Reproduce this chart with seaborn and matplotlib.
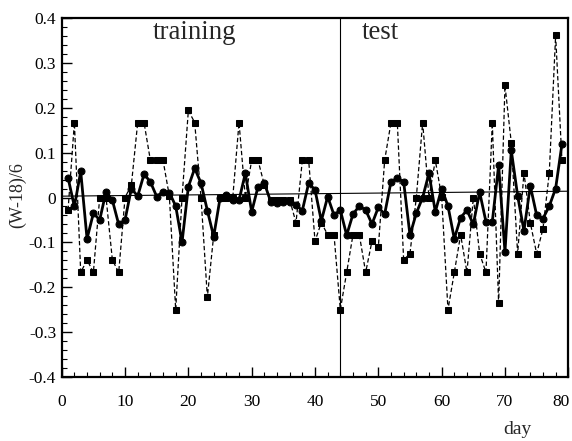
import numpy as np
import pandas as pd
import matplotlib
matplotlib.use("Agg")
import matplotlib.pyplot as plt
import matplotlib.transforms as mtransforms
import seaborn as sns
from matplotlib.ticker import MultipleLocator, FuncFormatter

# day index of each sample
days = list(range(1, 80))

# solid line with circles
predicted = [0.044, -0.020, 0.058, -0.092, -0.035, -0.050, 0.013, -0.006, -0.060, -0.050,
             0.020, 0.003, 0.052, 0.035, 0.002, 0.013, 0.011, -0.019, -0.100, 0.024,
             0.065, 0.032, -0.029, -0.087, -0.002, 0.006, -0.006, -0.006, 0.054, -0.032,
             0.024, 0.032, -0.009, -0.012, -0.009, -0.009, -0.017, -0.029, 0.032, 0.017,
             -0.052, 0.002, -0.039, -0.028, -0.084, -0.037, -0.019, -0.028, -0.059, -0.022,
             -0.037, 0.035, 0.043, 0.035, -0.084, -0.035, 0.000, 0.054, -0.032, 0.020,
             -0.019, -0.092, -0.045, -0.028, -0.060, 0.012, -0.054, -0.054, 0.072, -0.121,
             0.105, 0.004, -0.074, 0.026, -0.039, -0.047, -0.019, 0.020, 0.119]

# dashed line with squares
observed = [-0.028, 0.167, -0.167, -0.139, -0.167, 0.000, 0.000, -0.139, -0.167, 0.000,
            0.028, 0.167, 0.167, 0.083, 0.083, 0.083, 0.003, -0.250, 0.000, 0.194,
            0.167, 0.000, -0.222, -0.084, -0.002, -0.002, -0.002, 0.167, 0.000, 0.083,
            0.083, 0.028, -0.005, -0.005, -0.005, -0.005, -0.056, 0.083, 0.083, -0.097,
            -0.056, -0.083, -0.083, -0.250, -0.167, -0.083, -0.083, -0.167, -0.097, -0.111,
            0.083, 0.167, 0.167, -0.139, -0.125, 0.000, 0.167, 0.000, 0.083, 0.002,
            -0.250, -0.167, -0.083, -0.167, 0.000, -0.125, -0.167, 0.167, -0.236, 0.250,
            0.122, -0.125, 0.055, -0.056, -0.125, -0.070, 0.055, 0.361, 0.083]

trend_days = [0, 80]
trend_vals = [0.003, 0.014]
split_day = 44

df = pd.DataFrame({"day": days, "predicted": predicted, "observed": observed})

sns.set_style("ticks")
plt.rcParams["font.family"] = ["Liberation Serif", "DejaVu Serif"]
plt.rcParams["axes.unicode_minus"] = False

fig = plt.figure(figsize=(5.72, 4.41), dpi=100)
ax = fig.add_axes([0.1079, 0.1451, 0.8856, 0.8141])

ax.plot(trend_days, trend_vals, color="black", lw=0.8, zorder=1)
ax.axvline(split_day, color="black", lw=0.8, zorder=1)

sns.lineplot(data=df, x="day", y="observed", ax=ax, color="black", lw=0.9,
             linestyle=(0, (3.5, 2)), marker="s", markersize=4.5,
             markeredgecolor="black", zorder=2)
sns.lineplot(data=df, x="day", y="predicted", ax=ax, color="black", lw=2.0,
             marker="o", markersize=5, markeredgecolor="black", zorder=3)

ax.set_xlim(0, 80)
ax.set_ylim(-0.4, 0.4)
ax.set_xticks(range(0, 81, 10))
ax.xaxis.set_minor_locator(MultipleLocator(2))
ax.yaxis.set_major_locator(MultipleLocator(0.1))
ax.yaxis.set_minor_locator(MultipleLocator(0.02))
ax.yaxis.set_major_formatter(FuncFormatter(lambda v, p: "0" if abs(v) < 1e-9 else f"{v:.1f}"))

ax.tick_params(which="both", direction="in", top=False, right=False, colors="black")
ax.tick_params(which="major", length=7, width=1.0, labelsize=12.5)
ax.tick_params(axis="x", which="major", pad=12)
ax.tick_params(axis="y", which="major", pad=4)
ax.tick_params(which="minor", length=3.5, width=0.8)
for s in ax.spines.values():
    s.set_linewidth(1.6)
    s.set_color("black")

# last x label sits a little left so it stays inside the picture
last = ax.get_xticklabels()[-1]
last.set_transform(last.get_transform() + mtransforms.ScaledTranslation(-7 / 100, 0, fig.dpi_scale_trans))

ax.set_xlabel("day", fontsize=14)
ax.set_ylabel("(W-18)/6", fontsize=13)
ax.xaxis.set_label_coords(0.899, -0.122)
ax.yaxis.set_label_coords(-0.07, 0.507)

ax.text(21, 0.353, "training", fontsize=19.3, ha="center", va="baseline")
ax.text(50.3, 0.353, "test", fontsize=19.3, ha="center", va="baseline")

fig.savefig("out.png", dpi=100)
